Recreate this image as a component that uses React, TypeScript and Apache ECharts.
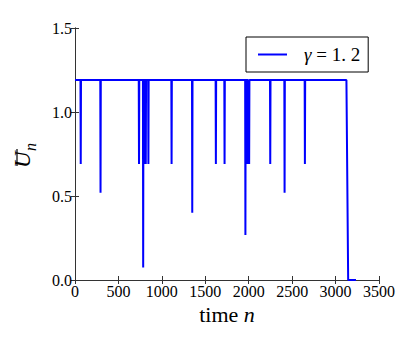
import React, { useEffect, useRef } from "react";
import * as echarts from "echarts";

// Values
const level = 1.19; // plateau value of U_n
const spikeTimes = [66, 294, 737, 785, 800, 815, 845, 1112, 1350, 1622, 1722, 1962, 1978, 1995, 2005, 2248, 2413, 2647];
const spikeDepths = [0.69, 0.52, 0.69, 0.075, 0.69, 0.69, 0.69, 0.69, 0.40, 0.69, 0.69, 0.268, 0.69, 0.69, 0.69, 0.69, 0.52, 0.69];
const startTime = 0;
const dropStart = 3125;
const dropEnd = 3145;
const endTime = 3235;
const endValue = 0;
const spikeHalfWidth = 3;

const xTicks = { min: 0, max: 3500, interval: 500 };
const yTicks = { min: 0, max: 1.5, interval: 0.5 };

const seriesName = "γ=1.2";

const FONT = "Liberation Serif, Times New Roman, DejaVu Serif, serif";

function buildData(): [number, number][] {
  const pts: [number, number][] = [[startTime, level]];
  spikeTimes.forEach((t, i) => {
    pts.push([t - spikeHalfWidth, level]);
    pts.push([t, spikeDepths[i]]);
    pts.push([t + spikeHalfWidth, level]);
  });
  pts.push([dropStart, level]);
  pts.push([dropEnd, endValue]);
  pts.push([endTime, endValue]);
  return pts;
}

export default function App() {
  const ref = useRef<HTMLDivElement>(null);
  useEffect(() => {
    if (!ref.current) return;
    const chart = echarts.init(ref.current, undefined, { renderer: "svg" });
    const axisColor = "#333";
    const tickLabel = { fontFamily: FONT, fontSize: 16, color: "#000" };
    chart.setOption({
      animation: false,
      backgroundColor: "#fff",
      textStyle: { fontFamily: FONT },
      grid: { left: 75, top: 28, right: 36, bottom: 66 },
      legend: {
        left: 246,
        top: 37,
        icon: "rect",
        itemWidth: 29,
        itemHeight: 2,
        borderColor: "#000",
        borderWidth: 1,
        borderRadius: 0,
        padding: [8, 8, 8, 12],
        data: [seriesName],
        formatter: () => "{g|γ}{t| = 1. 2}",
        textStyle: {
          fontFamily: FONT,
          fontSize: 18,
          color: "#000",
          padding: [0, 0, 0, 12],
          rich: {
            g: { fontFamily: FONT, fontSize: 19, fontStyle: "italic", color: "#000" },
            t: { fontFamily: FONT, fontSize: 19, color: "#000" },
          },
        },
      },
      xAxis: [
        {
          type: "value",
          position: "bottom",
          ...xTicks,
          axisLine: { show: true, lineStyle: { color: axisColor, width: 1 } },
          axisTick: { show: true, inside: true, length: 4, lineStyle: { color: axisColor } },
          splitLine: { show: false },
          axisLabel: { ...tickLabel, margin: 3, formatter: (v: number) => String(v) },
          name: "{a|time }{b|n}",
          nameLocation: "middle",
          nameGap: 13,
          nameTextStyle: {
            fontFamily: FONT,
            rich: {
              a: { fontFamily: FONT, fontSize: 22, color: "#000" },
              b: { fontFamily: FONT, fontSize: 22, fontStyle: "italic", color: "#000" },
            },
          },
        },
        {
          type: "value",
          position: "top",
          ...xTicks,
          axisLine: { show: true, lineStyle: { color: axisColor, width: 1 } },
          axisTick: { show: true, inside: true, length: 4, lineStyle: { color: axisColor } },
          splitLine: { show: false },
          axisLabel: { show: false },
        },
      ],
      yAxis: [
        {
          type: "value",
          position: "left",
          ...yTicks,
          axisLine: { show: true, lineStyle: { color: axisColor, width: 1 } },
          axisTick: { show: true, inside: true, length: 4, lineStyle: { color: axisColor } },
          splitLine: { show: false },
          axisLabel: { ...tickLabel, margin: 3, formatter: (v: number) => v.toFixed(1) },
        },
        {
          type: "value",
          position: "right",
          ...yTicks,
          axisLine: { show: true, lineStyle: { color: axisColor, width: 1 } },
          axisTick: { show: true, inside: true, length: 4, lineStyle: { color: axisColor } },
          splitLine: { show: false },
          axisLabel: { show: false },
        },
      ],
      graphic: [
        {
          type: "group",
          x: 34,
          y: 168,
          rotation: Math.PI / 2,
          children: [
            {
              type: "text",
              x: 0,
              y: 0,
              style: {
                text: "U",
                fontFamily: FONT,
                fontSize: 23,
                fontStyle: "italic",
                fill: "#000",
                textVerticalAlign: "bottom",
              },
            },
            {
              type: "line",
              shape: { x1: 2, y1: -17, x2: 19, y2: -17 },
              style: { stroke: "#000", lineWidth: 1.2 },
            },
            {
              type: "text",
              x: 17,
              y: 4,
              style: {
                text: "n",
                fontFamily: FONT,
                fontSize: 16,
                fontStyle: "italic",
                fill: "#000",
                textVerticalAlign: "bottom",
              },
            },
          ],
        },
      ],
      series: [
        {
          name: seriesName,
          type: "line",
          xAxisIndex: 0,
          yAxisIndex: 0,
          showSymbol: false,
          symbol: "none",
          lineStyle: { color: "#0000ff", width: 2 },
          itemStyle: { color: "#0000ff" },
          data: buildData(),
        },
      ],
    });
    return () => chart.dispose();
  }, []);
  return <div ref={ref} style={{ width: 415, height: 346, margin: -8 }} />;
}
